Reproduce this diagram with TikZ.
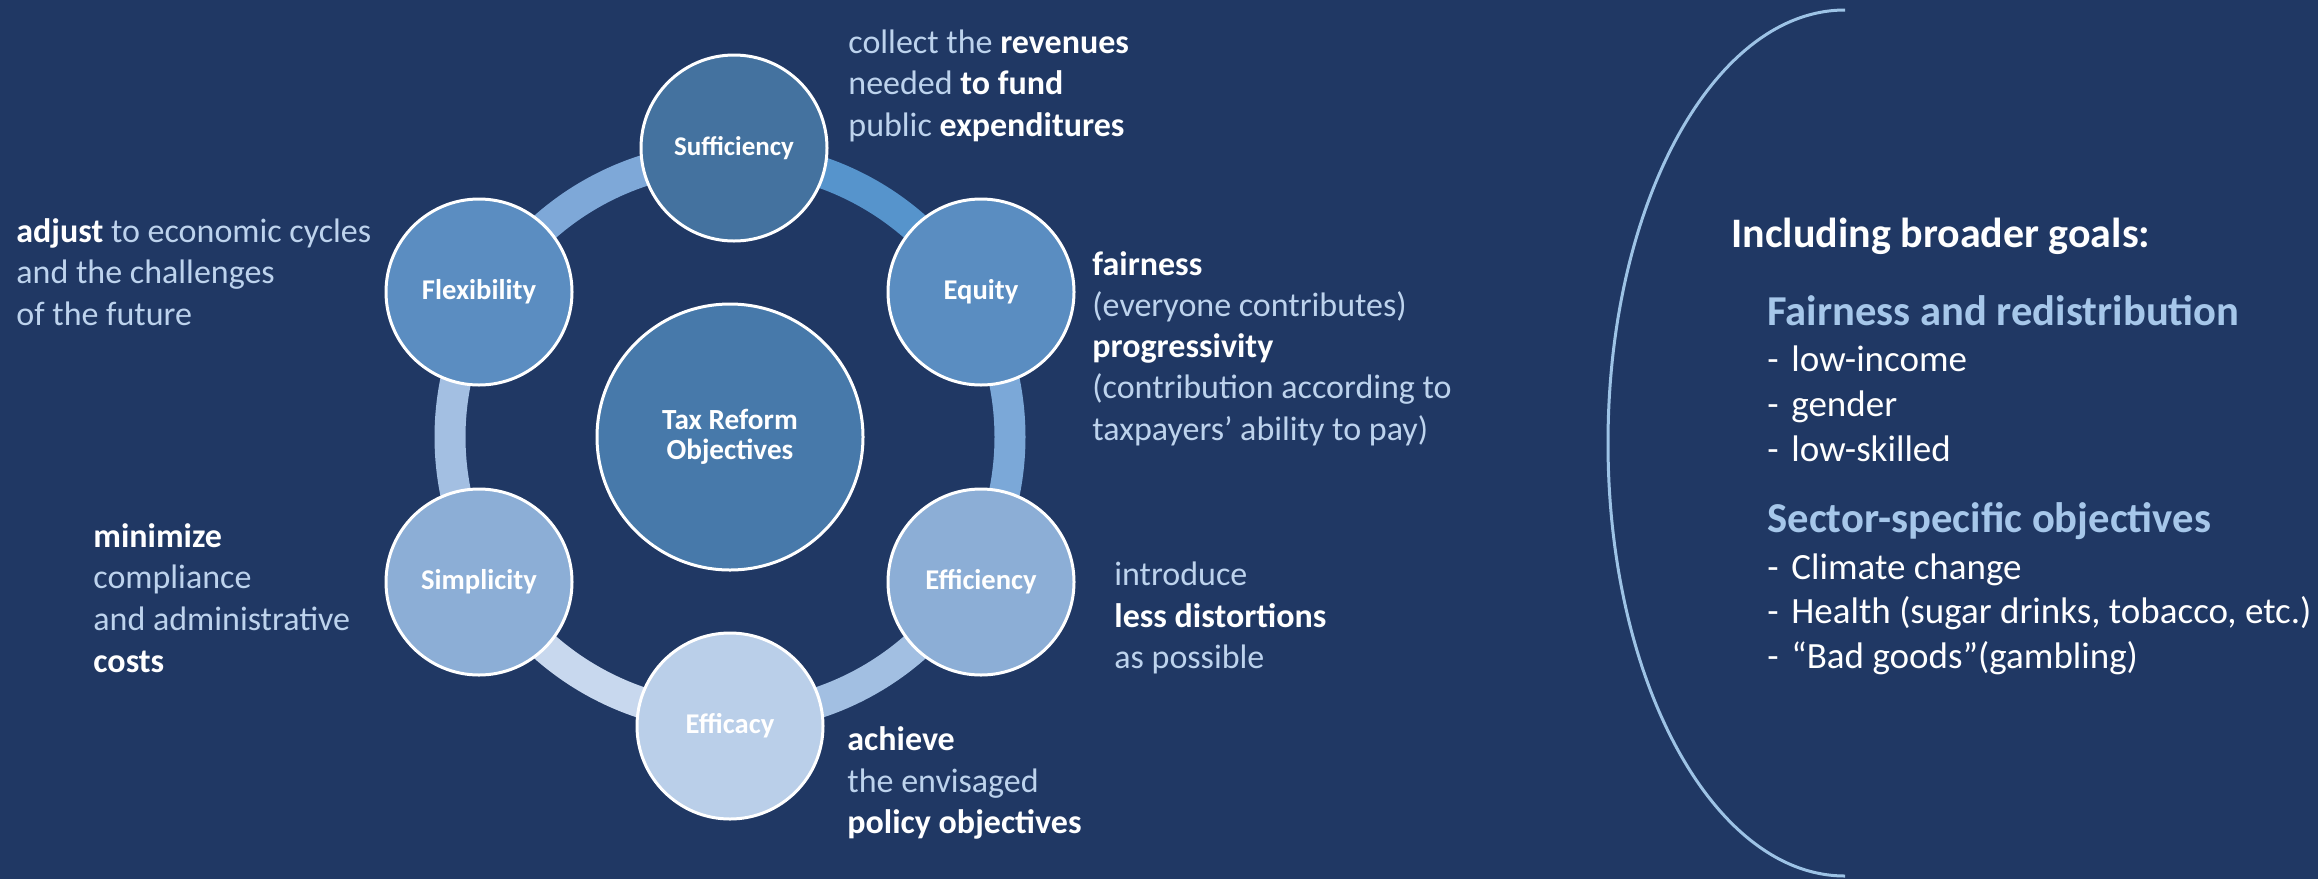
\documentclass[tikz,border=0pt]{standalone}
\usepackage{fontspec}
\setmainfont{Carlito}
\definecolor{bg}{HTML}{203864}
\definecolor{txtlight}{HTML}{BDD3ED}
\definecolor{headblue}{HTML}{A6C7EA}
\definecolor{arcblue}{HTML}{9DC3E6}
\definecolor{cSuff}{HTML}{44729F}
\definecolor{cEq}{HTML}{5A8DC1}
\definecolor{cFlex}{HTML}{5B8DC1}
\definecolor{cEffi}{HTML}{8CAED6}
\definecolor{cSimp}{HTML}{8CAED6}
\definecolor{cEffa}{HTML}{BACFE9}
\definecolor{cCent}{HTML}{4779AA}
\definecolor{rA}{HTML}{5694CC}
\definecolor{rB}{HTML}{7BA8D8}
\definecolor{rC}{HTML}{A2BFE2}
\definecolor{rD}{HTML}{C8D8EE}
\definecolor{rE}{HTML}{A3BFE2}
\definecolor{rF}{HTML}{7EA8D8}
\newcommand{\ltx}[1]{{\color{txtlight}#1}}
\newcommand{\bdx}[1]{{\color{white}\bfseries #1}}
\newcommand{\dashitem}[1]{\makebox[12pt][l]{-}#1}
\begin{document}
\begin{tikzpicture}[x=0.5pt,y=-0.5pt,
  ringseg/.style={line width=15.5pt},
  circ/.style={circle, draw=white, line width=1.5pt, minimum size=93pt, inner sep=0pt,
    text=white, font=\fontsize{14.3}{15.5}\selectfont\bfseries},
  txt/.style={inner sep=0pt, anchor=base west, font=\fontsize{17}{20.75}\selectfont},
  rtxt/.style={inner sep=0pt, anchor=base west, text=white, font=\fontsize{18.5}{22}\selectfont},
  rhead/.style={inner sep=0pt, anchor=base west, text=headblue, font=\fontsize{21.3}{25}\selectfont\bfseries},
]
\fill[bg] (0,0) rectangle (2318,879);
\useasboundingbox (0,0) rectangle (2318,879);

% ring
\coordinate (rc) at (730,437);
\draw[ringseg, rA] ([shift={(rc)}]-90:280) arc[start angle=-90, end angle=-30, radius=280];
\draw[ringseg, rB] ([shift={(rc)}]-30:280) arc[start angle=-30, end angle=30, radius=280];
\draw[ringseg, rC] ([shift={(rc)}]30:280) arc[start angle=30, end angle=90, radius=280];
\draw[ringseg, rD] ([shift={(rc)}]90:280) arc[start angle=90, end angle=150, radius=280];
\draw[ringseg, rE] ([shift={(rc)}]150:280) arc[start angle=150, end angle=210, radius=280];
\draw[ringseg, rF] ([shift={(rc)}]210:280) arc[start angle=210, end angle=270, radius=280];

% circles
\node[circ, fill=cSuff, font=\fontsize{13.5}{15}\selectfont\bfseries] (suff) at (734,148) {Sufficiency};
\node[circ, fill=cEq] (equity) at (981,292) {Equity};
\node[circ, fill=cEffi] (effi) at (981,582) {Efficiency};
\node[circ, fill=cEffa] (effa) at (730,726) {Efficacy};
\node[circ, fill=cSimp] (simp) at (479,582) {Simplicity};
\node[circ, fill=cFlex] (flex) at (479,292) {Flexibility};
\node[circ, fill=cCent, minimum size=133pt, align=center,
  font=\fontsize{14.6}{14.8}\selectfont\bfseries] (center) at (730,437) {Tax Reform\\Objectives};

% Sufficiency text
\node[txt] (s1) at (848,53) {\ltx{collect the\ }\bdx{revenues}};
\node[txt] (s2) at (848,94.5) {\ltx{needed\ }\bdx{to fund}};
\node[txt] (s3) at (848,136) {\ltx{public\ }\bdx{expenditures}};

% Flexibility text
\node[txt] (f1) at (16,242) {\bdx{adjust}\ltx{\ to economic cycles}};
\node[txt] (f2) at (16,283.5) {\ltx{and the challenges}};
\node[txt] (f3) at (16,325) {\ltx{of the future}};

% Equity text
\node[txt] (e1) at (1092,275) {\bdx{fairness}};
\node[txt] (e2) at (1092,316) {\ltx{(everyone contributes)}};
\node[txt] (e3) at (1092,357) {\bdx{progressivity}};
\node[txt] (e4) at (1092,398) {\ltx{(contribution according to}};
\node[txt] (e5) at (1092,440) {\ltx{taxpayers’ ability to pay)}};

% Efficiency text
\node[txt] (i1) at (1114,585) {\ltx{introduce}};
\node[txt] (i2) at (1114,627) {\bdx{less distortions}};
\node[txt] (i3) at (1114,668) {\ltx{as possible}};

% Efficacy text
\node[txt] (a1) at (847,750) {\bdx{achieve}};
\node[txt] (a2) at (847,792) {\ltx{the envisaged}};
\node[txt] (a3) at (847,833) {\bdx{policy objectives}};

% Simplicity text
\node[txt] (m1) at (93,547) {\bdx{minimize}};
\node[txt] (m2) at (93,588) {\ltx{compliance}};
\node[txt] (m3) at (93,630) {\ltx{and administrative}};
\node[txt] (m4) at (93,672) {\bdx{costs}};

% right panel
\coordinate (arctop) at (1845,10);
\draw[arcblue, line width=1.5pt] (arctop) arc[start angle=270, end angle=90, x radius=237, y radius=433];

\node[inner sep=0pt, anchor=base west, text=white, font=\fontsize{21}{25}\selectfont\bfseries] (g0) at (1731,247) {Including broader goals:};
\node[rhead] (h1) at (1767,325) {Fairness and redistribution};
\node[rtxt] (r1) at (1767,371) {\dashitem{low-income}};
\node[rtxt] (r2) at (1767,416) {\dashitem{gender}};
\node[rtxt] (r3) at (1767,461) {\dashitem{low-skilled}};
\node[rhead] (h2) at (1767,532) {Sector-specific objectives};
\node[rtxt] (r4) at (1767,579) {\dashitem{Climate change}};
\node[rtxt] (r5) at (1767,623) {\dashitem{Health (sugar drinks, tobacco, etc.)}};
\node[rtxt] (r6) at (1767,668) {\dashitem{“Bad goods”(gambling)}};
\end{tikzpicture}
\end{document}
